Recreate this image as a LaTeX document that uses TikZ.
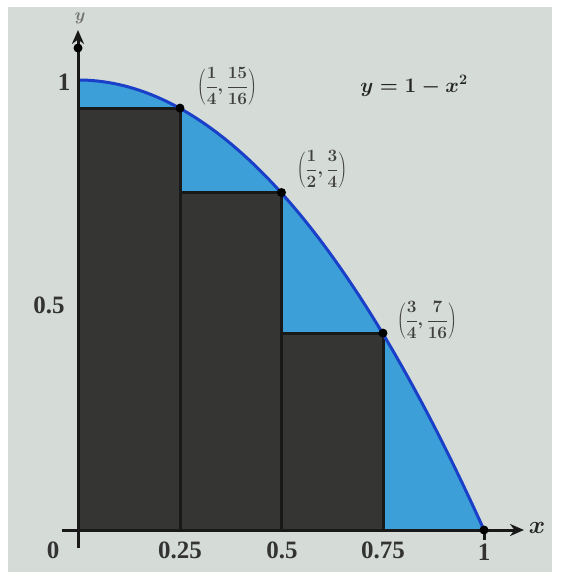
\documentclass[tikz,border=0pt]{standalone}
\usepackage{fontspec}
\setmainfont{Liberation Serif}
\usetikzlibrary{arrows.meta}
\definecolor{paper}{HTML}{D5DBD7}
\definecolor{areablue}{HTML}{3D9FD8}
\definecolor{curveblue}{HTML}{1A3FC8}
\definecolor{rectdark}{HTML}{353533}
\tikzset{
  lbl/.style={font=\fontsize{25}{28}\selectfont\bfseries, text=black!80},
  pt/.style={font=\fontsize{18}{22}\selectfont\boldmath, text=black!75},
  rectbox/.style={fill=rectdark, draw=black!90, line width=3pt},
  dotp/.style={circle, fill=black, inner sep=0pt, minimum size=9pt},
  axis/.style={line width=3pt, draw=black!90, -{Stealth[length=14pt,width=12pt]}}
}
\begin{document}
\begin{tikzpicture}[x=1pt,y=-1pt]
\useasboundingbox (0,0) rectangle (560,577);
\fill[white] (0,0) rectangle (560,577);
\fill[paper] (8,7) rectangle (552,572);
% area under curve
\fill[areablue] (78,530) -- plot[domain=0:1,samples=80] ({78+406*\x},{530-450*(1-\x*\x)}) -- cycle;
% rectangles
\draw[rectbox] (78,530) rectangle (180,{530-450*15/16});
\draw[rectbox] (180,530) rectangle (281.5,{530-450*3/4});
\draw[rectbox] (281.5,530) rectangle (383,{530-450*7/16});
% curve
\draw[curveblue, line width=3pt] plot[domain=0:1,samples=80] ({78+406*\x},{530-450*(1-\x*\x)});
% axes
\coordinate (O) at (78,530);
\coordinate (xstart) at (62,530);
\coordinate (ystart) at (78,548);
\coordinate (xend) at (524,530);
\coordinate (yend) at (78,30);
\draw[axis] (xstart) -- (xend);
\draw[axis] (ystart) -- (yend);
\node[dotp] (ytop) at (78,48) {};
\draw[black!90, line width=3pt] (484,530) -- (484,540);
% dots
\node[dotp] (p1) at (180,{530-450*15/16}) {};
\node[dotp] (p2) at (281.5,{530-450*3/4}) {};
\node[dotp] (p3) at (383,{530-450*7/16}) {};
\node[dotp] (p4) at (484,530) {};
% labels
\node[pt] (l1) at (227,86) {$\displaystyle\left(\frac{1}{4},\frac{15}{16}\right)$};
\node[pt] (l2) at (322,169) {$\displaystyle\left(\frac{1}{2},\frac{3}{4}\right)$};
\node[pt] (l3) at (427,320) {$\displaystyle\left(\frac{3}{4},\frac{7}{16}\right)$};
\node[font=\fontsize{22}{26}\selectfont\boldmath, text=black!85] (eq) at (414,86) {$y = 1 - x^{2}$};
\node[font=\fontsize{24}{28}\selectfont\boldmath, text=black!85] (xl) at (537,528) {$x$};
\node[font=\fontsize{16}{20}\selectfont\boldmath, text=black!55] (yl) at (80,18) {$y$};
\node[lbl] (t1) at (64,82) {1};
\node[lbl] (t05) at (49,305) {0.5};
\node[lbl] (t0) at (53,550) {0};
\node[lbl] (t025) at (180,550) {0.25};
\node[lbl] (t050) at (282,550) {0.5};
\node[lbl] (t075) at (383,550) {0.75};
\node[lbl] (tone) at (484,552) {1};
\end{tikzpicture}
\end{document}
